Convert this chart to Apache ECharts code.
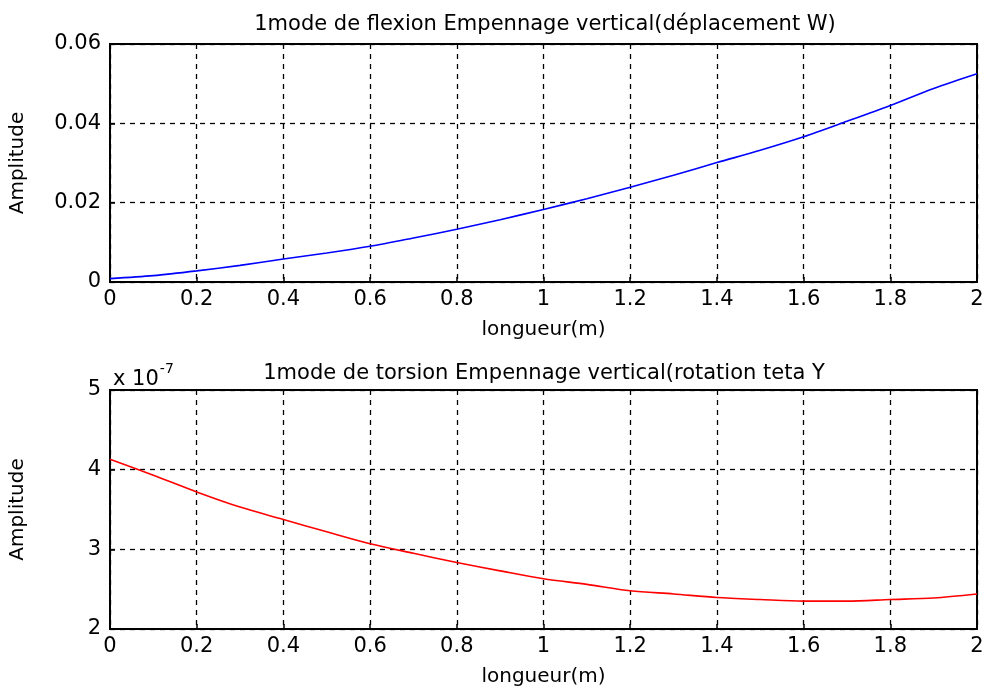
<!DOCTYPE html>
<html>
<head>
<meta charset="utf-8">
<script src="https://cdn.jsdelivr.net/npm/echarts@6/dist/echarts.min.js"></script>
<style>html,body{margin:0;padding:0;background:#fff}#c{width:989px;height:695px}</style>
</head>
<body>
<div id="c"></div>
<script>
// Data
const xPos = [0, 0.1, 0.2, 0.3, 0.4, 0.5, 0.6, 0.7, 0.8, 0.9, 1.0, 1.1, 1.2, 1.3, 1.4, 1.5, 1.6, 1.7, 1.8, 1.9, 2.0];
const flexionW = [0.00086, 0.0016, 0.0028, 0.0042, 0.0058, 0.0073, 0.0090, 0.0111, 0.0133, 0.0157, 0.0183, 0.0210, 0.0239, 0.0269, 0.0301, 0.0332, 0.0366, 0.0405, 0.0445, 0.0488, 0.0525];
// torsion amplitude, in units of 1e-7
const torsionTheta = [4.13, 3.93, 3.72, 3.53, 3.375, 3.22, 3.07, 2.95, 2.835, 2.73, 2.63, 2.56, 2.48, 2.44, 2.395, 2.37, 2.35, 2.35, 2.37, 2.39, 2.44];
const xTicks = [0, 0.2, 0.4, 0.6, 0.8, 1, 1.2, 1.4, 1.6, 1.8, 2];
const title1 = '1mode de flexion Empennage vertical(déplacement W)';
const title2 = '1mode de torsion Empennage vertical(rotation teta Y';

const FONT = 'DejaVu Sans, Arial, sans-serif';
const pair = (xs, ys) => xs.map((x, i) => [x, ys[i]]);

const chart = echarts.init(document.getElementById('c'), null, {renderer: 'canvas'});

function xAxis(gi) {
  return {
    type: 'value', gridIndex: gi, min: 0, max: 2, interval: 0.2,
    name: 'longueur(m)', nameLocation: 'middle', nameGap: 38,
    nameTextStyle: {color: '#000', fontSize: 20, fontFamily: FONT},
    axisLine: {show: true, onZero: false, lineStyle: {color: '#000', width: 2}},
    axisTick: {show: true, inside: true, length: 5, lineStyle: {color: '#000', width: 1.5}},
    axisLabel: {color: '#000', fontSize: 21, fontFamily: FONT, margin: 7,
      formatter: v => String(+v.toFixed(1))},
    splitLine: {show: true, lineStyle: {color: '#000', type: [5, 5], width: 1.3}}
  };
}
function yAxis(gi, min, max, interval, fmt) {
  return {
    type: 'value', gridIndex: gi, min: min, max: max, interval: interval,
    name: 'Amplitude', nameLocation: 'middle', nameGap: 82, nameRotate: 90,
    nameTextStyle: {color: '#000', fontSize: 20, fontFamily: FONT},
    axisLine: {show: true, onZero: false, lineStyle: {color: '#000', width: 2}},
    axisTick: {show: true, inside: true, length: 5, lineStyle: {color: '#000', width: 1.5}},
    axisLabel: {color: '#000', fontSize: 21, fontFamily: FONT, margin: 9, formatter: fmt},
    splitLine: {show: true, lineStyle: {color: '#000', type: [5, 5], width: 1.3}}
  };
}

chart.setOption({
  animation: false,
  backgroundColor: '#fff',
  title: [
    {text: title1, left: 540, top: 9, textAlign: 'center',
     textStyle: {color: '#000', fontSize: 21, fontWeight: 'normal', fontFamily: FONT}},
    {text: title2, left: 539, top: 358, textAlign: 'center',
     textStyle: {color: '#000', fontSize: 21, fontWeight: 'normal', fontFamily: FONT}},
    {text: '{a|x 10}{b|-7}', left: 108, top: 357,
     textStyle: {rich: {
       a: {color: '#000', fontSize: 21, fontWeight: 'normal', fontFamily: FONT, verticalAlign: 'bottom', lineHeight: 28},
       b: {color: '#000', fontSize: 14, fontWeight: 'normal', fontFamily: FONT, verticalAlign: 'top', lineHeight: 28, padding: [0, 0, 15, 1]}
     }}}
  ],
  grid: [
    {left: 110, right: 12, top: 44, height: 238, show: true, borderColor: '#000', borderWidth: 2, backgroundColor: 'transparent'},
    {left: 110, right: 12, top: 390, height: 239, show: true, borderColor: '#000', borderWidth: 2, backgroundColor: 'transparent'}
  ],
  xAxis: [xAxis(0), xAxis(1)],
  yAxis: [
    yAxis(0, 0, 0.06, 0.02, v => v === 0 ? '0' : v.toFixed(2)),
    yAxis(1, 2, 5, 1, v => String(v))
  ],
  series: [
    {type: 'line', xAxisIndex: 0, yAxisIndex: 0, data: pair(xPos, flexionW), showSymbol: false, smooth: 0.3,
     lineStyle: {color: '#0000ff', width: 1.6}, itemStyle: {color: '#0000ff'}},
    {type: 'line', xAxisIndex: 1, yAxisIndex: 1, data: pair(xPos, torsionTheta), showSymbol: false, smooth: 0.3,
     lineStyle: {color: '#ff0000', width: 1.6}, itemStyle: {color: '#ff0000'}}
  ]
});
</script>
</body>
</html>
